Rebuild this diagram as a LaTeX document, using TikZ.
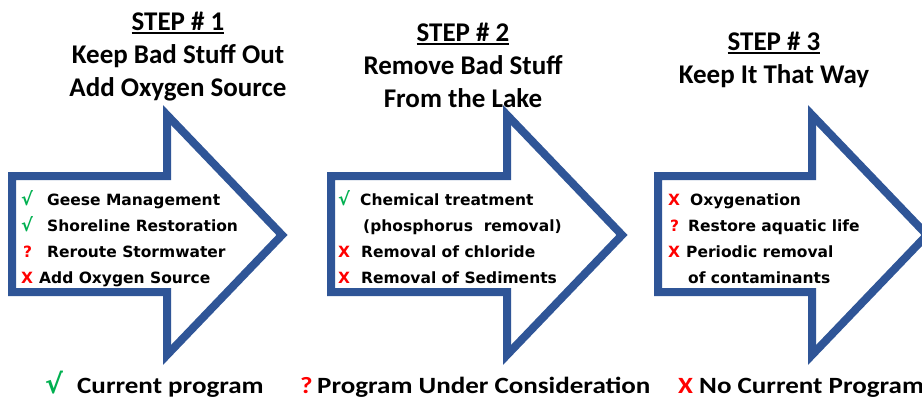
\documentclass[tikz,border=0pt]{standalone}
\usepackage{fontspec}
\setmainfont{Carlito}
\newfontfamily\listfont{DejaVu Sans}
\newfontfamily\keyfont{Carlito}[FakeStretch=1.16]

\definecolor{arrowblue}{RGB}{47,85,151}
\definecolor{okgreen}{RGB}{0,176,80}
\definecolor{nored}{RGB}{255,0,0}

\newcommand{\yes}{\textcolor{okgreen}{\listfont\scalebox{1.15}{√}}}
\newcommand{\maybe}{\textcolor{nored}{?}}
\newcommand{\nope}{\textcolor{nored}{X}}
\newcommand{\stepno}[1]{\setbox0=\hbox{#1}\rlap{\rule[-3.5pt]{\wd0}{1.8pt}}\box0}

\tikzset{
  stepshape/.style={draw=arrowblue,line width=8pt,fill=white},
  title/.style={anchor=base,inner sep=0pt,font=\bfseries\fontsize{27}{32}\selectfont},
  item/.style={anchor=base west,inner sep=0pt,font=\listfont\bfseries\fontsize{15.5}{26}\selectfont},
  key/.style={anchor=base west,inner sep=0pt,font=\keyfont\bfseries\fontsize{23.3}{28}\selectfont}
}

\begin{document}
\begin{tikzpicture}[x=1pt,y=-1pt]

\useasboundingbox (0,0) rectangle (922,399);
\clip (0,0) rectangle (922,399);

% the three arrows
\draw[stepshape] (12,176) -- (167,176) -- (167,115) -- (282,235)
  -- (167,355) -- (167,292) -- (12,292) -- cycle;
\draw[stepshape] (331,176) -- (507,176) -- (507,115) -- (622,235)
  -- (507,355) -- (507,292) -- (331,292) -- cycle;
\draw[stepshape] (658,176) -- (812,176) -- (812,115) -- (927,235)
  -- (812,355) -- (812,292) -- (658,292) -- cycle;

% titles
\node[title] (t1a) at (178,30) {\stepno{STEP \# 1}};
\node[title] (t1b) at (178,63) {Keep Bad Stuff Out};
\node[title] (t1c) at (178,96) {Add Oxygen Source};

\node[title] (t2a) at (463,41) {\stepno{STEP \# 2}};
\node[title] (t2b) at (463,74) {Remove Bad Stuff};
\node[title] (t2c) at (463,107) {From the Lake};

\node[title] (t3a) at (774,50) {\stepno{STEP \# 3}};
\node[title] (t3b) at (774,83) {Keep It That Way};

% step 1 list
\node[item] (s1a) at (21,205) {\makebox[26pt][l]{\yes}Geese Management};
\node[item] (s1b) at (21,231) {\makebox[26pt][l]{\yes}Shoreline Restoration};
\node[item] (s1c) at (23,257) {\makebox[24pt][l]{\maybe}Reroute Stormwater};
\node[item] (s1d) at (21,283) {\makebox[18pt][l]{\nope}Add Oxygen Source};

% step 2 list
\node[item] (s2a) at (338,205) {\makebox[22pt][l]{\yes}Chemical treatment};
\node[item] (s2b) at (363,231) {(phosphorus\ \ removal)};
\node[item] (s2c) at (338,257) {\makebox[23pt][l]{\nope}Removal of chloride};
\node[item] (s2d) at (338,283) {\makebox[23pt][l]{\nope}Removal of Sediments};

% step 3 list
\node[item] (s3a) at (668,205) {\makebox[22pt][l]{\nope}Oxygenation};
\node[item] (s3b) at (670,231) {\makebox[18pt][l]{\maybe}Restore aquatic life};
\node[item] (s3c) at (668,257) {\makebox[18pt][l]{\nope}Periodic removal};
\node[item] (s3d) at (688,283) {of contaminants};

% legend
\node[key] (k1) at (45,393) {\makebox[32pt][l]{\yes}Current program};
\node[key] (k2) at (300,393) {\makebox[17pt][l]{\maybe}Program Under Consideration};
\node[key] (k3) at (678,393) {\makebox[21pt][l]{\nope}No Current Program};

\end{tikzpicture}
\end{document}
